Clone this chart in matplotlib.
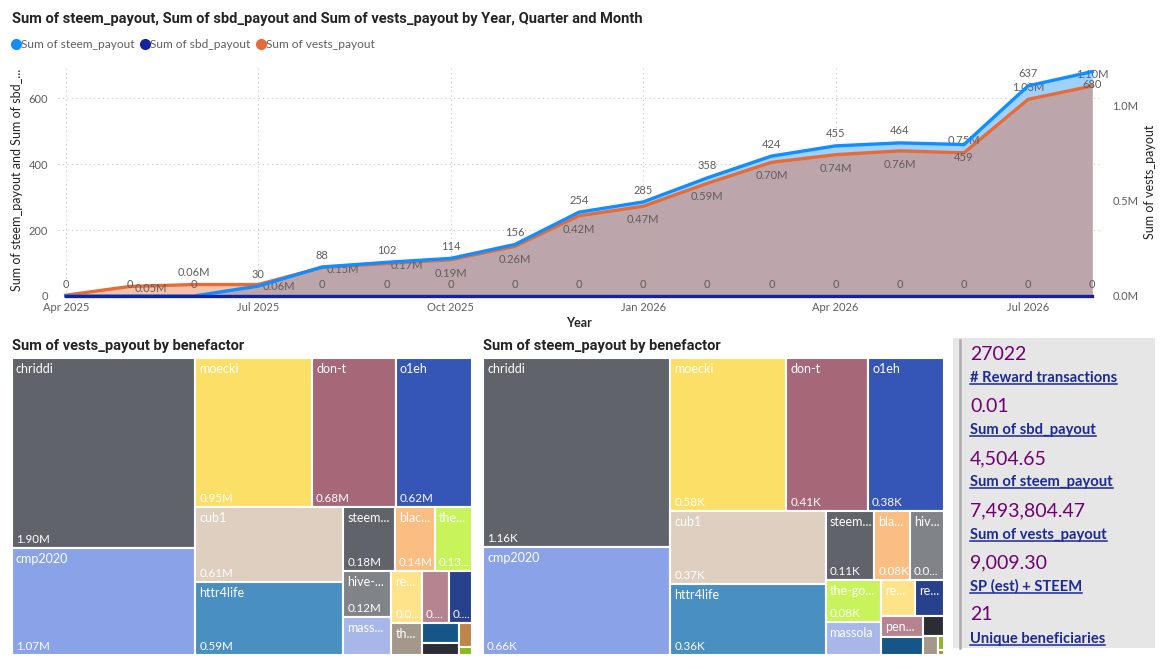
import matplotlib
matplotlib.use('Agg')
import matplotlib.pyplot as plt
import numpy as np
from matplotlib.patches import Rectangle
from matplotlib.lines import Line2D
from matplotlib.textpath import TextPath
from matplotlib.font_manager import FontProperties

# ---- data ----
months = ["2025-04", "2025-05", "2025-06", "2025-07", "2025-08", "2025-09",
          "2025-10", "2025-11", "2025-12", "2026-01", "2026-02", "2026-03",
          "2026-04", "2026-05", "2026-06", "2026-07", "2026-08"]
steem_payout = [0, 0, 0, 30, 88, 102, 114, 156, 254, 285, 358, 424, 455, 464, 459, 637, 680]
sbd_payout = [0] * 17
vests_payout = [0.004e6, 0.05e6, 0.06e6, 0.06e6, 0.15e6, 0.17e6, 0.19e6, 0.26e6, 0.42e6,
                0.47e6, 0.59e6, 0.70e6, 0.74e6, 0.76e6, 0.75e6, 1.03e6, 1.10e6]
quarter_ticks = ["Apr 2025", "Jul 2025", "Oct 2025", "Jan 2026", "Apr 2026", "Jul 2026"]

vests_names = ["chriddi", "cmp2020", "moecki", "don-t", "o1eh", "cub1", "httr4life",
               "steem...", "blac...", "the...", "hive-...", "mass...", "re...", "", "",
               "th...", "", "", "", ""]
vests_values = [1.90e6, 1.07e6, 0.95e6, 0.68e6, 0.62e6, 0.61e6, 0.59e6, 0.18e6, 0.14e6,
                0.13e6, 0.12e6, 0.10e6, 0.088e6, 0.077e6, 0.066e6, 0.053e6, 0.040e6,
                0.023e6, 0.017e6, 0.006e6]
vests_colors = ["#606369", "#8AA3E8", "#FCDF67", "#A66879", "#3556B6", "#DECFC0", "#4A8FC2",
                "#606369", "#FABD82", "#C8F35A", "#808489", "#A8B7EA", "#FEE389", "#B68391",
                "#28418C", "#A4988C", "#165587", "#2A2D34", "#BE8448", "#8CB923"]

steem_names = ["chriddi", "cmp2020", "moecki", "don-t", "o1eh", "cub1", "httr4life",
               "steem...", "bla...", "hiv...", "the-go...", "massola", "re...", "re...",
               "pen...", "", "", "", "", ""]
steem_values = [1160, 660, 580, 410, 380, 370, 360, 110, 80, 77, 76, 60, 39, 34, 30, 24,
                14, 9, 3, 1]
steem_colors = ["#606369", "#8AA3E8", "#FCDF67", "#A66879", "#3556B6", "#DECFC0", "#4A8FC2",
                "#606369", "#FABD82", "#808489", "#C8F35A", "#A8B7EA", "#FEE389", "#28418C",
                "#B68391", "#165587", "#2A2D34", "#A4988C", "#8CB923", "#BE8448"]

kpi_values = [27022, 0.01, 4504.65, 7493804.47, 9009.30, 21]
kpi_formats = ["{:.0f}", "{:,.2f}", "{:,.2f}", "{:,.2f}", "{:,.2f}", "{:.0f}"]
kpi_labels = ["# Reward transactions", "Sum of sbd_payout", "Sum of steem_payout",
              "Sum of vests_payout", "SP (est) + STEEM", "Unique beneficiaries"]

# label placement (a = above, b = below, r = right, '' = hidden)
steem_pos = ['', '', '', 'a', 'a', 'a', 'a', 'a', 'a', 'a', 'a', 'a', 'a', 'a', 'b', 'a', 'b']
vests_pos = ['', 'r', 'a', 'r', 'r', 'r', 'b', 'b', 'b', 'b', 'b', 'b', 'b', 'b', 'a', 'a', 'a']
sbd_pos = ['a', 'a', 'a', '', 'a', 'a', 'a', 'a', 'a', 'a', 'a', 'a', 'a', 'a', 'a', 'a', 'a']
OFFS = {'a': (0, 8.6), 'b': (0, -9.6), 'r': (15, -1.2)}

BLUE, NAVY, ORANGE = '#118DFF', '#12239E', '#E66C37'
GREY_TXT = '#605E5C'
DARK_TXT = '#252423'
TITLE_FONT = 'Roboto'
BODY_FONT = 'Lato'
PHI = (1 + 5 ** 0.5) / 2

W_PX, H_PX = 1170, 669


def fx(px):
    return px / W_PX


def fy(py):
    return 1 - py / H_PX


def squarify(values, x0, y0, x1, y1, ratio=PHI):
    """d3-style squarified layout, y grows downwards"""
    rects = []
    n = len(values)
    value = float(sum(values))
    i0 = i1 = 0
    while i0 < n:
        dx, dy = x1 - x0, y1 - y0
        sum_v = values[i1]
        i1 += 1
        min_v = max_v = sum_v
        alpha = max(dy / dx, dx / dy) / (value * ratio)
        beta = sum_v * sum_v * alpha
        min_ratio = max(max_v / beta, beta / min_v)
        while i1 < n:
            nv = values[i1]
            s2 = sum_v + nv
            mn, mx = min(min_v, nv), max(max_v, nv)
            beta = s2 * s2 * alpha
            new_ratio = max(mx / beta, beta / mn)
            if new_ratio > min_ratio:
                break
            sum_v, min_v, max_v, min_ratio = s2, mn, mx, new_ratio
            i1 += 1
        row = values[i0:i1]
        if dx < dy:
            yb = y0 + dy * sum_v / value
            xx = x0
            for v in row:
                w = dx * v / sum_v
                rects.append((xx, y0, w, yb - y0))
                xx += w
            y0 = yb
        else:
            xb = x0 + dx * sum_v / value
            yy = y0
            for v in row:
                h = dy * v / sum_v
                rects.append((x0, yy, xb - x0, h))
                yy += h
            x0 = xb
        value -= sum_v
        i0 = i1
    return rects


def text_width_px(s, size, family=BODY_FONT):
    tp = TextPath((0, 0), s, size=size, prop=FontProperties(family=family))
    return tp.get_extents().width * 100 / 72


def fit_text(s, max_w, size):
    if text_width_px(s, size) <= max_w:
        return s
    for k in range(len(s) - 1, 0, -1):
        t = s[:k] + "..."
        if text_width_px(t, size) <= max_w:
            return t
    return ""


def draw_treemap(fig, left, top, width, height, title, names, values, colors, fmt):
    fig.text(fx(left), fy(top - 12), title, fontsize=10.5, fontweight='bold',
             color=DARK_TXT, va='center', ha='left', family=TITLE_FONT)
    tax = fig.add_axes([fx(left), fy(top + height), width / W_PX, height / H_PX])
    tax.set_xlim(0, width)
    tax.set_ylim(height, 0)
    tax.axis('off')
    rects = squarify(values, 0, 0, width, height)
    for (rx, ry, rw, rh), name, v, c in zip(rects, names, values, colors):
        tax.add_patch(Rectangle((rx, ry), rw, rh, facecolor=c, edgecolor='white', lw=1.5))
        if name and rw >= 20 and rh >= 18:
            tax.text(rx + 4, ry + 5, fit_text(name, rw - 3, 9), color='white', fontsize=9,
                     va='top', ha='left', family=BODY_FONT)
        if rw >= 22 and rh >= 40:
            tax.text(rx + 4, ry + rh - 3, fit_text(fmt(v), rw - 5, 8.4), color='white',
                     fontsize=8.4, va='bottom', ha='left', family=BODY_FONT)


fig = plt.figure(figsize=(W_PX / 100, H_PX / 100), dpi=100)

# ---- line / area chart ----
x = np.arange(len(months))
ax = fig.add_axes([fx(58), fy(296), (1100 - 58) / W_PX, (296 - 68) / H_PX])
ax2 = ax.twinx()
ax3 = ax.twinx()

ax.set_xlim(-0.12, len(months) - 1 + 0.12)
ax.set_ylim(0, 691)
ax2.set_ylim(0, 1.194e6)
ax3.set_ylim(0, 691)

ax.fill_between(x, 0, steem_payout, color=BLUE, alpha=0.4, lw=0)
ax2.fill_between(x, 0, vests_payout, color=ORANGE, alpha=0.42, lw=0)
ax2.plot(x, vests_payout, color=ORANGE, lw=2.4, solid_joinstyle='round', clip_on=False)
ax3.plot(x, steem_payout, color=BLUE, lw=2.4, solid_joinstyle='round', clip_on=False)
ax3.plot(x, sbd_payout, color=NAVY, lw=2.4, clip_on=False)

ax.set_yticks([0, 200, 400, 600])
ax.set_xticks([0, 3, 6, 9, 12, 15], labels=quarter_ticks)
ax.grid(True, color='#C8C6C4', lw=0.8, linestyle=(0, (1, 3)))
ax.tick_params(length=0, colors=GREY_TXT, labelsize=8)
ax.tick_params(axis='y', pad=7)
ax.tick_params(axis='x', pad=4)
ax2.set_yticks([0, 0.5e6, 1.0e6], labels=["0.0M", "0.5M", "1.0M"])
ax2.tick_params(length=0, colors=GREY_TXT, labelsize=8, pad=9)
ax3.set_yticks([])
for a in (ax, ax2, ax3):
    for s in a.spines.values():
        s.set_visible(False)
    for lab in a.get_xticklabels() + a.get_yticklabels():
        lab.set_family(BODY_FONT)

for i in range(len(months)):
    if steem_pos[i]:
        ax3.annotate(f"{steem_payout[i]:.0f}", (x[i], steem_payout[i]), xytext=OFFS[steem_pos[i]],
                     textcoords='offset points', ha='center', va='center', fontsize=8,
                     color=GREY_TXT, family=BODY_FONT)
    if sbd_pos[i]:
        ax3.annotate(f"{sbd_payout[i]:.0f}", (x[i], sbd_payout[i]), xytext=OFFS[sbd_pos[i]],
                     textcoords='offset points', ha='center', va='center', fontsize=8,
                     color=GREY_TXT, family=BODY_FONT)
    if vests_pos[i]:
        ax2.annotate(f"{vests_payout[i] / 1e6:.2f}M", (x[i], vests_payout[i]),
                     xytext=OFFS[vests_pos[i]], textcoords='offset points', ha='center',
                     va='center', fontsize=8, color=GREY_TXT, family=BODY_FONT)

fig.text(fx(12), fy(19), "Sum of steem_payout, Sum of sbd_payout and Sum of vests_payout by "
         "Year, Quarter and Month", fontsize=10.5, fontweight='bold', color=DARK_TXT,
         va='center', ha='left', family=TITLE_FONT)
handles = [Line2D([], [], marker='o', ls='', ms=7, color=c) for c in (BLUE, NAVY, ORANGE)]
fig.legend(handles, ["Sum of steem_payout", "Sum of sbd_payout", "Sum of vests_payout"],
           loc='center left', bbox_to_anchor=(fx(12), fy(45)), ncol=3, frameon=False,
           handlelength=0.6, handletextpad=0.15, columnspacing=0.55, borderaxespad=0,
           borderpad=0, prop={'family': BODY_FONT, 'size': 8.6}, labelcolor=GREY_TXT)
fig.text(fx(17), fy(180), "Sum of steem_payout and Sum of sbd_...", rotation=90,
         fontsize=9, color=DARK_TXT, ha='center', va='center', family=BODY_FONT)
fig.text(fx(1150), fy(182), "Sum of vests_payout", rotation=90, fontsize=9,
         color=DARK_TXT, ha='center', va='center', family=BODY_FONT)
fig.text(fx(579), fy(323), "Year", fontsize=9, fontweight='bold', color=DARK_TXT,
         ha='center', va='center', family=BODY_FONT)

# ---- treemaps ----
draw_treemap(fig, 12, 358, 460, 297, "Sum of vests_payout by benefactor",
             vests_names, vests_values, vests_colors, lambda v: f"{v / 1e6:.2f}M")
draw_treemap(fig, 483, 358, 461, 297, "Sum of steem_payout by benefactor",
             steem_names, steem_values, steem_colors, lambda v: f"{v / 1e3:.2f}K")

# ---- KPI cards ----
fig.add_artist(Rectangle((fx(953), fy(648)), (1155 - 953) / W_PX, (648 - 338) / H_PX,
                         transform=fig.transFigure, facecolor='#E6E6E6', edgecolor='none'))
fig.add_artist(Line2D([fx(960), fx(960)], [fy(340), fy(648)], transform=fig.transFigure,
                      color='#ABABAB', lw=1.8))
label_texts = []
for i, (v, f, lab) in enumerate(zip(kpi_values, kpi_formats, kpi_labels)):
    y0 = 354 + 52.2 * i
    fig.text(fx(970), fy(y0), f.format(v), fontsize=14, color='#700070', ha='left',
             va='center', family=BODY_FONT)
    t = fig.text(fx(970), fy(y0 + 28), lab, fontsize=10.6, fontweight='bold', color='#1C2A96',
                 ha='left', va='baseline', family=BODY_FONT)
    label_texts.append((t, y0 + 28))

fig.canvas.draw()
renderer = fig.canvas.get_renderer()
for t, yb in label_texts:
    bb = t.get_window_extent(renderer)
    fig.add_artist(Line2D([bb.x0 / W_PX, bb.x1 / W_PX], [fy(yb + 2), fy(yb + 2)],
                          transform=fig.transFigure, color='#1C2A96', lw=1.1))

fig.savefig('out.png', dpi=100, facecolor='white')
